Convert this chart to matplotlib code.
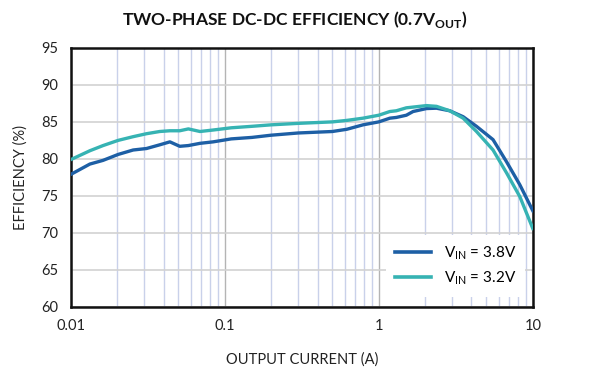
#!/usr/bin/env python3
"""Two-phase DC-DC efficiency vs output current (0.7 Vout)."""
import matplotlib
matplotlib.use('Agg')
import matplotlib.pyplot as plt
from matplotlib.ticker import FixedLocator, NullFormatter

# output current (A)
current = [0.01, 0.0133, 0.0162, 0.0203, 0.0254, 0.031, 0.0378, 0.044, 0.051,
           0.058, 0.069, 0.084, 0.11, 0.15, 0.2, 0.3, 0.5, 0.62, 0.79, 1.0,
           1.18, 1.3, 1.51, 1.67, 2.04, 2.37, 2.89, 3.53, 4.31, 5.52, 6.76,
           8.24, 10.0]

# efficiency (%)
eff_38 = [77.9, 79.3, 79.8, 80.6, 81.2, 81.4, 81.9, 82.3, 81.7, 81.8, 82.1,
          82.3, 82.7, 82.9, 83.2, 83.5, 83.7, 84.0, 84.6, 85.0, 85.5, 85.6,
          85.9, 86.4, 86.8, 86.85, 86.5, 85.7, 84.4, 82.6, 79.6, 76.5, 73.0]
eff_32 = [79.9, 81.1, 81.8, 82.5, 83.0, 83.4, 83.7, 83.8, 83.8, 84.05, 83.7,
          83.9, 84.2, 84.4, 84.6, 84.8, 85.0, 85.2, 85.5, 85.9, 86.4, 86.5,
          86.9, 87.0, 87.2, 87.1, 86.5, 85.5, 83.7, 81.2, 78.1, 74.9, 70.6]

labels = [r'V$_{\mathregular{IN}}$ = 3.8V', r'V$_{\mathregular{IN}}$ = 3.2V']
colors = ['#1d5fa5', '#36b3b3']

x_ticks = [0.01, 0.1, 1, 10]
x_ticklabels = ['0.01', '0.1', '1', '10']
y_ticks = [60, 65, 70, 75, 80, 85, 90, 95]

plt.rcParams['font.family'] = ['Lato', 'DejaVu Sans']
plt.rcParams['mathtext.fontset'] = 'custom'
plt.rcParams['mathtext.rm'] = 'Lato'
plt.rcParams['mathtext.bf'] = 'Lato:bold'

fig = plt.figure(figsize=(5.9, 3.77), dpi=100)
ax = fig.add_axes([0.120, 0.186, 0.783, 0.687])

ax.plot(current, eff_38, color=colors[0], lw=2.4, label=labels[0], zorder=3)
ax.plot(current, eff_32, color=colors[1], lw=2.4, label=labels[1], zorder=3)

ax.set_xscale('log')
ax.set_xlim(0.01, 10)
ax.set_ylim(60, 95)

ax.xaxis.set_major_locator(FixedLocator(x_ticks))
ax.set_xticklabels(x_ticklabels)
minor = [m * d for d in (0.01, 0.1, 1) for m in range(2, 10)]
ax.xaxis.set_minor_locator(FixedLocator(minor))
ax.xaxis.set_minor_formatter(NullFormatter())
ax.set_yticks(y_ticks)

ax.grid(which='major', axis='x', color='#b4b4b4', lw=1.0)
ax.grid(which='minor', axis='x', color='#c9d1ea', lw=1.0)
ax.grid(which='major', axis='y', color='#d2d2d2', lw=1.2)
ax.set_axisbelow(True)

ax.tick_params(which='both', length=0, labelsize=10.5, pad=9, colors='#222222')
for s in ax.spines.values():
    s.set_linewidth(1.8)
    s.set_color('#111111')

ax.set_xlabel('OUTPUT CURRENT (A)', fontsize=10.5, labelpad=14, color='#222222')
ax.set_ylabel('EFFICIENCY (%)', fontsize=10.5, labelpad=10, color='#222222')
fig.text(0.5, 0.948, r'TWO-PHASE DC-DC EFFICIENCY (0.7V$_{\mathbf{OUT}}$)',
         ha='center', va='center', fontsize=12.5, fontweight='bold', color='#111111')

leg = ax.legend(loc='lower right', bbox_to_anchor=(1.0, 0.01), frameon=True,
                fancybox=False, edgecolor='none', facecolor='white', framealpha=1.0,
                fontsize=11, handlelength=2.4, borderpad=0.6, labelspacing=0.5)
for line in leg.get_lines():
    line.set_linewidth(2.6)

fig.savefig('out.png', dpi=100)
plt.close(fig)
